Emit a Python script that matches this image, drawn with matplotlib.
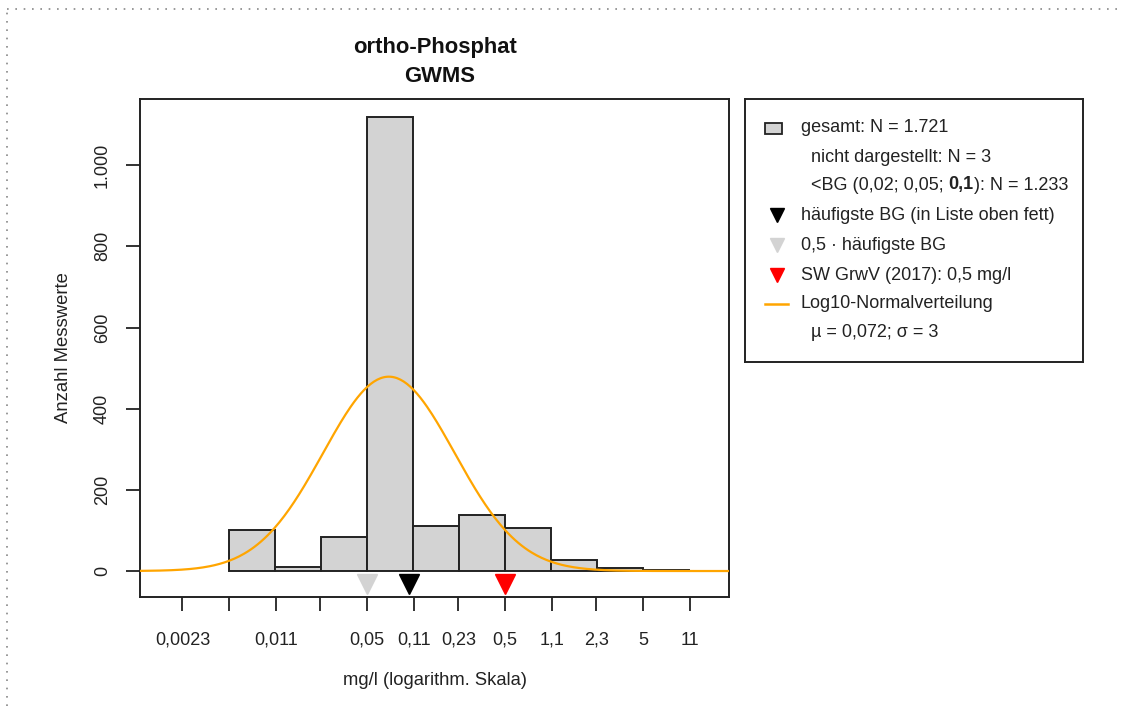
import matplotlib.pyplot as plt
import matplotlib.patches as mpatches
import numpy as np

plt.rcParams['font.family'] = ['Liberation Sans', 'DejaVu Sans']

# Klassengrenzen (log10, Breite 1/3 Dekade) und Anzahl je Klasse
edges_log = np.log10(0.05) + np.arange(-3, 8) / 3.0
counts = [101, 10, 84, 1118, 112, 137, 105, 28, 7, 3]

tick_vals = [0.0023, 0.005, 0.011, 0.023, 0.05, 0.11, 0.23, 0.5, 1.1, 2.3, 5, 11]
tick_labels = ["0,0023", "", "0,011", "", "0,05", "0,11", "0,23", "0,5", "1,1", "2,3", "5", "11"]

bg_half = 0.05      # 0,5 * häufigste BG
bg_most = 0.1       # häufigste BG
sw_grwv = 0.5       # Schwellenwert GrwV
mu, sigma = 0.072, 3.0
n_shown = 1718

fig = plt.figure(figsize=(11.23, 7.06), dpi=100)
W, H = 1123, 706

def box(x0, y0, x1, y1):
    return [x0 / W, 1 - y1 / H, (x1 - x0) / W, (y1 - y0) / H]

ax = fig.add_axes(box(140, 99, 729, 597))

edges = 10 ** edges_log
ax.bar(edges[:-1], counts, width=np.diff(edges), align="edge",
       color="#d3d3d3", edgecolor="#222222", linewidth=1.4, zorder=2)

# Log10-Normalverteilung, auf Klassenbreite skaliert
xs = np.linspace(-3.2, 1.6, 400)
s = np.log10(sigma)
dens = np.exp(-0.5 * ((xs - np.log10(mu)) / s) ** 2) / (s * np.sqrt(2 * np.pi))
ax.plot(10 ** xs, n_shown * (1 / 3) * dens, color="orange", linewidth=1.6, zorder=3)

ym = -33
ax.plot([bg_half], [ym], marker="v", color="#d3d3d3", ms=14, ls="none", zorder=4)
ax.plot([bg_most], [ym], marker="v", color="black", ms=14, ls="none", zorder=4)
ax.plot([sw_grwv], [ym], marker="v", color="red", ms=14, ls="none", zorder=4)

ax.set_xscale("log")
ax.set_xlim(10 ** -2.946, 10 ** 1.322)
ax.set_ylim(-64, 1163)
ax.set_xticks(tick_vals)
ax.set_xticklabels(tick_labels)
ax.minorticks_off()
ax.set_yticks([0, 200, 400, 600, 800, 1000])
ax.set_yticklabels(["0", "200", "400", "600", "800", "1.000"], rotation=90, va="center")
ax.tick_params(axis="x", length=10, width=1.3, pad=15, labelsize=13, colors="#222222")
ax.tick_params(axis="y", length=10, width=1.3, pad=11, labelsize=13, colors="#222222")
for sp in ax.spines.values():
    sp.set_linewidth(1.4)
    sp.set_color("#222222")

ax.set_xlabel("mg/l (logarithm. Skala)", fontsize=13.2, color="#222222", va="center")
ax.xaxis.set_label_coords(0.5, -0.167)
ax.set_ylabel("Anzahl Messwerte", fontsize=13.3, color="#222222", va="center")
ax.yaxis.set_label_coords(-0.13, 0.5)

fig.text(435 / W, 1 - 47 / H, "ortho-Phosphat", fontsize=15.8, fontweight="bold",
         ha="center", va="center", color="#111111")
fig.text(440 / W, 1 - 77 / H, "GWMS", fontsize=15.8, fontweight="bold",
         ha="center", va="center", color="#111111")

# Legende als eigene Achse
lg = fig.add_axes(box(745, 99, 1083, 362))
lg.set_xlim(0, 338)
lg.set_ylim(263, 0)
lg.set_xticks([])
lg.set_yticks([])
for sp in lg.spines.values():
    sp.set_linewidth(1.4)
    sp.set_color("#222222")

fs = 13
tc = "#222222"
lg.add_patch(mpatches.Rectangle((20, 24), 17, 11, facecolor="#d3d3d3", edgecolor="#222222", lw=1.3))
lg.text(56, 29, "gesamt: N = 1.721", fontsize=fs, va="center", color=tc)
lg.text(66, 58, "nicht dargestellt: N = 3", fontsize=fs, va="center", color=tc)
t1 = lg.text(66, 86, "<BG (0,02; 0,05; ", fontsize=fs, va="center", color=tc)
t2 = lg.annotate("0,1", xy=(1, 0), xycoords=t1, va="bottom", fontsize=fs,
                 fontweight="bold", color=tc)
lg.annotate("): N = 1.233", xy=(1, 0), xycoords=t2, va="bottom", fontsize=fs, color=tc)
lg.plot([32], [116], marker="v", color="black", ms=9.5)
lg.text(56, 116, "häufigste BG (in Liste oben fett)", fontsize=fs, va="center", color=tc)
lg.plot([32], [146], marker="v", color="#d3d3d3", ms=9.5)
lg.text(56, 146, "0,5 · häufigste BG", fontsize=fs, va="center", color=tc)
lg.plot([32], [176], marker="v", color="red", ms=9.5)
lg.text(56, 176, "SW GrwV (2017): 0,5 mg/l", fontsize=fs, va="center", color=tc)
lg.plot([20, 43], [205, 205], color="orange", lw=1.8)
lg.text(56, 205, "Log10-Normalverteilung", fontsize=fs, va="center", color=tc)
lg.text(66, 234, "µ = 0,072; σ = 3", fontsize=fs, va="center", color=tc)

# gepunkteter Rahmen
fig.add_artist(plt.Line2D([7 / W, 1], [1 - 9 / H, 1 - 9 / H], color="#888888", ls=(0, (1, 4)), lw=1.2))
fig.add_artist(plt.Line2D([7 / W, 7 / W], [0, 1 - 9 / H], color="#888888", ls=(0, (1, 4)), lw=1.2))

fig.savefig("out.png", dpi=100)
